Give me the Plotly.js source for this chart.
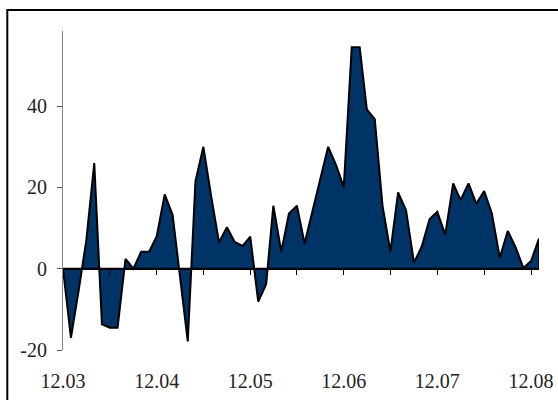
<!DOCTYPE html>
<html>
<head>
<meta charset="utf-8">
<script src="https://cdn.plot.ly/plotly-3.0.1.min.js"></script>
<style>html,body{margin:0;padding:0;background:#fff;}#chart{width:558px;height:400px;}</style>
</head>
<body>
<div id="chart"></div>
<script>
var months = [
  "2003-12-01",
  "2004-01-01","2004-02-01","2004-03-01","2004-04-01","2004-05-01","2004-06-01","2004-07-01","2004-08-01","2004-09-01","2004-10-01","2004-11-01","2004-12-01",
  "2005-01-01","2005-02-01","2005-03-01","2005-04-01","2005-05-01","2005-06-01","2005-07-01","2005-08-01","2005-09-01","2005-10-01","2005-11-01","2005-12-01",
  "2006-01-01","2006-02-01","2006-03-01","2006-04-01","2006-05-01","2006-06-01","2006-07-01","2006-08-01","2006-09-01","2006-10-01","2006-11-01","2006-12-01",
  "2007-01-01","2007-02-01","2007-03-01","2007-04-01","2007-05-01","2007-06-01","2007-07-01","2007-08-01","2007-09-01","2007-10-01","2007-11-01","2007-12-01",
  "2008-01-01","2008-02-01","2008-03-01","2008-04-01","2008-05-01","2008-06-01","2008-07-01","2008-08-01","2008-09-01","2008-10-01","2008-11-01","2008-12-01",
  "2009-01-01"
];
var values = [
  0,
  -17, -5, 7, 26, -13.7, -14.5, -14.5, 2.4, 0, 4.2, 4.2, 8,
  18.3, 13.2, -2, -17.9, 21.5, 30, 18, 6.5, 10.2, 6.6, 5.6, 7.9,
  -8.1, -3.8, 15.5, 4.2, 13.6, 15.5, 6.2, 14, 22, 30, 25.5, 20.1,
  54.5, 54.5, 39.2, 36.8, 15.6, 4.2, 18.8, 14.4, 1.5, 5.4, 12.2, 14,
  8.4, 21, 16.9, 21, 16, 19.1, 13.6, 2.7, 9.3, 5.4, 0.2, 1.9,
  7.4
];
var yTicks = [-20, 0, 20, 40];
var yRange = [-20, 58.5];

// closed polygon (data + baseline back to start) so the area outline includes the end edge
var polyX = months.concat([months[months.length - 1], months[0]]);
var polyY = values.concat([0, 0]);

var traces = [
  {
    x: polyX, y: polyY, type: 'scatter', mode: 'lines',
    fill: 'toself', fillcolor: '#003366',
    line: {color: '#000000', width: 2},
    hoverinfo: 'skip', showlegend: false
  },
  {
    x: months, y: values, type: 'scatter', mode: 'lines',
    xaxis: 'x2', line: {color: 'rgba(0,0,0,0)', width: 0},
    hoverinfo: 'skip', showlegend: false
  }
];

var ml = 63, mr = 19, mt = 31, mb = 50, W = 558, H = 400;
var pw = W - ml - mr, ph = H - mt - mb;
var zeroPos = (0 - yRange[0]) / (yRange[1] - yRange[0]);

var layout = {
  width: W, height: H,
  margin: {l: ml, r: mr, t: mt, b: mb},
  paper_bgcolor: '#ffffff', plot_bgcolor: '#ffffff',
  font: {family: '"Liberation Serif", "Times New Roman", serif', size: 20, color: '#222222'},
  showlegend: false,
  xaxis: {
    type: 'date',
    range: [months[0], months[months.length - 1]],
    tick0: months[0], dtick: 'M12', tickformat: '%m.%y',
    showgrid: false, zeroline: false, showline: false, ticks: '',
    ticklabelstandoff: 17,
    tickfont: {family: '"Liberation Serif", serif', size: 20, color: '#222222'},
    fixedrange: true
  },
  xaxis2: {
    type: 'date', overlaying: 'x', matches: 'x',
    anchor: 'free', position: zeroPos,
    tick0: months[0], dtick: 'M6',
    showline: true, linecolor: '#000000', linewidth: 2,
    ticks: 'outside', ticklen: 5, tickcolor: '#000000', tickwidth: 1,
    showticklabels: false, showgrid: false, zeroline: false,
    layer: 'above traces'
  },
  yaxis: {
    range: yRange, tickvals: yTicks, ticktext: yTicks.map(String),
    showgrid: false, zeroline: false,
    showline: true, linecolor: '#888888', linewidth: 1,
    ticks: 'outside', ticklen: 5, tickcolor: '#555555', tickwidth: 1,
    ticklabelstandoff: 6,
    tickfont: {family: '"Liberation Serif", serif', size: 20, color: '#222222'},
    fixedrange: true
  },
  shapes: [
    {
      type: 'rect', xref: 'paper', yref: 'paper',
      x0: (7.3 - ml) / pw, x1: 1.2,
      y0: -0.3, y1: (H - mb - 10) / ph,
      line: {color: '#000000', width: 2}, fillcolor: 'rgba(0,0,0,0)'
    }
  ]
};

Plotly.newPlot('chart', traces, layout, {displayModeBar: false, staticPlot: true});
</script>
</body>
</html>
